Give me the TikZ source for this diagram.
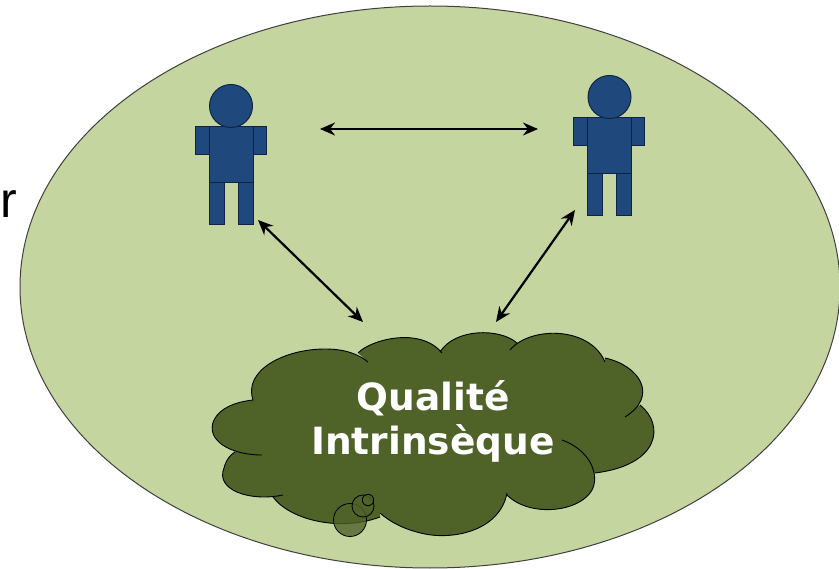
\documentclass[tikz,border=0pt]{standalone}
\usepackage{fontspec}
\usetikzlibrary{arrows.meta}
\newfontfamily\labelfont{DejaVu Sans}
\newfontfamily\sidefont{Liberation Sans}
\definecolor{fondvert}{HTML}{C4D5A0}
\definecolor{nuage}{HTML}{4F6228}
\definecolor{bleu}{HTML}{1F497D}
\definecolor{bleufonce}{HTML}{0F2444}
\tikzset{
	corps/.style={fill=bleu,draw=bleufonce,line width=1pt},
	bulle/.style={fill=nuage,fill opacity=0.8,draw=black,line width=0.8pt},
	fleche/.style={{Stealth[length=15pt,width=13pt]}-{Stealth[length=15pt,width=13pt]},line width=2.2pt}
}
\newcommand{\personne}[2]{
	\draw[corps] (#1-36,#2+21) rectangle (#1-22,#2+49);
	\draw[corps] (#1+22,#2+21) rectangle (#1+35,#2+49);
	\draw[corps] (#1-22,#2+77) rectangle (#1-7,#2+119);
	\draw[corps] (#1+7,#2+77) rectangle (#1+22,#2+119);
	\draw[corps] (#1-22,#2+21) rectangle (#1+22,#2+77);
	\draw[corps] (#1,#2) circle[radius=21.5];
}
\newcommand{\contour}[1]{
	(253,400) .. controls (243,370) and (285,349) .. (325,349) .. controls (345,349) and (358,354) .. (368,362) #1
	(358,353) .. controls (370,340) and (420,326) .. (442,353) #1
	(440,352) .. controls (455,328) and (500,328) .. (517,343) #1
	(510,350) .. controls (530,326) and (590,326) .. (605,362) #1
	(605,358) .. controls (638,365) and (660,395) .. (625,417) #1
	(640,405) .. controls (665,425) and (660,465) .. (595,473) #1
	(562,440) .. controls (590,450) and (600,475) .. (592,490) .. controls (580,512) and (530,518) .. (507,495) #1
	(507,493) .. controls (500,530) and (455,540) .. (425,534) .. controls (405,530) and (390,522) .. (380,513) #1
	(380,517) .. controls (340,532) and (290,520) .. (273,497) #1
	(283,495) .. controls (250,502) and (215,490) .. (224,468) .. controls (226,460) and (230,455) .. (235,452) #1
	(262,455) .. controls (230,455) and (205,440) .. (214,420) .. controls (220,408) and (235,402) .. (253,400)
}
\begin{document}
\begin{tikzpicture}[x=1pt,y=-1pt]
	\useasboundingbox (0,0) rectangle (839,569);
	\node[anchor=base west,inner sep=0pt,font=\sidefont\fontsize{50}{50}\selectfont] (sideletter) at (0,218) {r};
	\draw[fill=fondvert,draw=black!75,line width=1pt] (430,287) ellipse[x radius=410,y radius=281];
	\personne{231}{106}
	\personne{609.5}{97}
	% nuage
	\fill[nuage] \contour{--} -- cycle;
	\draw[black,line width=0.9pt] \contour{};
	\draw[bulle] (350,520) circle[radius=16.5];
	\draw[bulle] (363,506) circle[radius=11];
	\draw[bulle] (368,500) circle[radius=5.7];
	\node[align=center,text=white,font=\labelfont\bfseries\fontsize{37.5}{44}\selectfont] (titre) at (433,421) {Qualité\\Intrinsèque};
	% flèches
	\coordinate (hautg) at (320,129);
	\coordinate (hautd) at (538,129);
	\coordinate (piedg) at (258,220);
	\coordinate (nuageg) at (363,322);
	\coordinate (piedd) at (575,210);
	\coordinate (nuaged) at (496,322);
	\draw[fleche] (hautg)--(hautd);
	\draw[fleche] (piedg)--(nuageg);
	\draw[fleche] (piedd)--(nuaged);
\end{tikzpicture}
\end{document}
